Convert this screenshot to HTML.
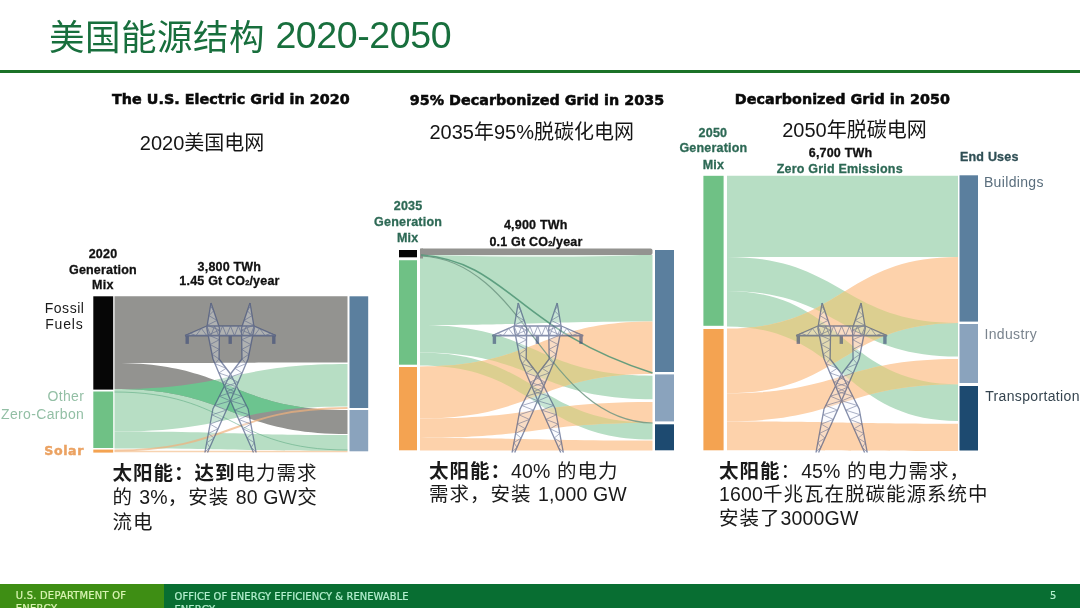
<!DOCTYPE html>
<html lang="zh-CN"><head><meta charset="utf-8"><title>美国能源结构 2020-2050</title>
<style>
*{margin:0;padding:0;box-sizing:border-box}
html,body{width:1080px;height:608px;overflow:hidden;background:#fff}
body{position:relative;font-family:"Liberation Sans", "Noto Sans CJK SC", sans-serif;color:#111}
.a{position:absolute;white-space:nowrap}
.lt{letter-spacing:0.15px}
.title{left:50px;top:13px;font-size:35.5px;line-height:46px;color:#1d7a43;letter-spacing:0.5px}
.rule{left:0;top:70px;width:1080px;height:3px;background:#1b7228}
.hd{font-family:"DejaVu Sans",sans-serif;font-weight:bold;font-size:14.3px;line-height:16px;color:#0a0a0a}
.cn{font-size:20px;line-height:24px;color:#151515}
.lb{font-weight:bold;font-size:12.5px;line-height:15.3px;text-align:center;color:#1a1a1a;letter-spacing:0.3px}
.gl{color:#3b8a6a}
.note{font-size:19.5px;line-height:24px;color:#1a1a1a}
.note b{font-weight:bold}
.foot{left:0;top:583.6px;width:1080px;height:25px;background:#086e32}
.footl{left:0;top:583.6px;width:164px;height:25px;background:#3e8e14}
.ft{font-family:"DejaVu Sans Condensed","Liberation Sans",sans-serif;font-size:11px;line-height:13px;color:#cdebb5}
svg{position:absolute;left:0;top:0}
</style></head><body>
<svg width="1080" height="608" viewBox="0 0 1080 608">
<path d="M114.5,296.3 C231.0,296.3 231.0,296.3 347.5,296.3 L347.5,362.6 C231.0,362.6 231.0,363 114.5,363 Z" fill="#939390"/><path d="M114.5,389 C231.0,389 231.0,364 347.5,364 L347.5,406.5 C231.0,406.5 231.0,431.5 114.5,431.5 Z" fill="#b7dec4"/><path d="M114.5,431.5 C231.0,431.5 231.0,435 347.5,435 L347.5,450.8 C231.0,450.8 231.0,448.5 114.5,448.5 Z" fill="#b7dec4"/><path d="M114.5,363 C231.0,363 231.0,410 347.5,410 L347.5,434 C231.0,434 231.0,389 114.5,389 Z" fill="#939390"/><clipPath id="c1g1"><path d="M114.5,389 C231.0,389 231.0,364 347.5,364 L347.5,406.5 C231.0,406.5 231.0,431.5 114.5,431.5 Z"/></clipPath><path d="M114.5,363 C231.0,363 231.0,410 347.5,410 L347.5,434 C231.0,434 231.0,389 114.5,389 Z" fill="#6cc48f" clip-path="url(#c1g1)"/><path d="M114.5,450.5 C231.0,450.5 231.0,408 347.5,408" stroke="#efb07c" stroke-width="1.9" fill="none" opacity="0.7"/><path d="M114.5,451.5 C231.0,451.5 231.0,451.5 347.5,451.5" stroke="#f4c090" stroke-width="1.5" fill="none" opacity="0.7"/><path d="M114.5,392 C231.0,392 231.0,450 347.5,450" stroke="#5aa880" stroke-width="0.8" fill="none" opacity="0.7"/><rect x="93.3" y="296.3" width="19.9" height="93.3" fill="#060606"/><rect x="93.3" y="391.5" width="19.9" height="56.5" fill="#6fc185"/><rect x="93.3" y="449.6" width="19.9" height="3" fill="#f4a351"/><rect x="349.5" y="296.3" width="18.7" height="111.7" fill="#5b7f9e"/><rect x="349.5" y="410" width="18.7" height="41.3" fill="#8aa3bd"/><g fill="#f2f6ff" opacity="0.3"><polygon points="211.00,303.00 206.80,328.00 213.00,359.00 219.00,359.00 219.50,328.00 211.00,303.00"/><polygon points="219.00,359.00 230.50,374.00 248.10,409.00 256.10,452.50 253.50,452.50 234.10,409.00 213.00,359.00"/><polygon points="185.00,335.70 206.80,326.00 206.80,335.70"/><polygon points="250.00,303.00 254.20,328.00 248.00,359.00 242.00,359.00 241.50,328.00 250.00,303.00"/><polygon points="242.00,359.00 230.50,374.00 212.90,409.00 204.90,452.50 207.50,452.50 226.90,409.00 248.00,359.00"/><polygon points="276.00,335.70 254.20,326.00 254.20,335.70"/><polygon points="206.80,326.00 254.20,326.00 254.20,335.70 206.80,335.70"/></g><g opacity="0.62"><g stroke="#3c4b78" stroke-width="1.35" fill="none" stroke-linejoin="round"><polyline points="211.00,303.00 206.80,328.00 213.00,359.00"/><polyline points="211.00,303.00 219.50,328.00 219.00,359.00"/><polyline points="210.50,306.00 213.66,310.82 208.88,315.64 216.93,320.45 207.26,325.27 219.47,330.09 208.18,334.91 219.31,339.73 210.11,344.55 219.16,349.36 212.04,354.18 219.00,359.00" stroke-width="0.7"/><polyline points="219.00,359.00 230.50,374.00 248.10,409.00 256.10,452.50"/><polyline points="213.00,359.00 234.10,409.00 253.50,452.50"/><polyline points="219.00,359.00 214.96,363.65 226.13,368.30 218.89,372.95 232.31,377.60 222.81,382.25 236.99,386.90 226.74,391.55 241.66,396.20 230.66,400.85 246.34,405.50 234.61,410.15 249.17,414.80 238.76,419.45 250.88,424.10 242.91,428.75 252.59,433.40 247.06,438.05 254.30,442.70 251.20,447.35 256.01,452.00" stroke-width="0.7"/><polyline points="185.00,335.70 206.80,326.00"/><polyline points="185.00,335.70 190.45,333.27 195.90,335.70 201.35,328.43 206.80,335.70" stroke-width="0.7"/><polyline points="250.00,303.00 254.20,328.00 248.00,359.00"/><polyline points="250.00,303.00 241.50,328.00 242.00,359.00"/><polyline points="250.50,306.00 247.34,310.82 252.12,315.64 244.07,320.45 253.74,325.27 241.53,330.09 252.82,334.91 241.69,339.73 250.89,344.55 241.84,349.36 248.96,354.18 242.00,359.00" stroke-width="0.7"/><polyline points="242.00,359.00 230.50,374.00 212.90,409.00 204.90,452.50"/><polyline points="248.00,359.00 226.90,409.00 207.50,452.50"/><polyline points="242.00,359.00 246.04,363.65 234.87,368.30 242.11,372.95 228.69,377.60 238.19,382.25 224.01,386.90 234.26,391.55 219.34,396.20 230.34,400.85 214.66,405.50 226.39,410.15 211.83,414.80 222.24,419.45 210.12,424.10 218.09,428.75 208.41,433.40 213.94,438.05 206.70,442.70 209.80,447.35 204.99,452.00" stroke-width="0.7"/><polyline points="276.00,335.70 254.20,326.00"/><polyline points="276.00,335.70 270.55,333.27 265.10,335.70 259.65,328.43 254.20,335.70" stroke-width="0.7"/><polyline points="206.80,326.00 254.20,326.00" stroke-width="1.7"/><polyline points="185.00,335.70 276.00,335.70" stroke-width="1.7"/><polyline points="206.80,326.00 210.75,335.70 214.70,326.00 218.65,335.70 222.60,326.00 226.55,335.70 230.50,326.00 234.45,335.70 238.40,326.00 242.35,335.70 246.30,326.00 250.25,335.70 254.20,326.00" stroke-width="0.75"/></g><g fill="#3c4b78"><rect x="185.50" y="335.7" width="3.4" height="8.2"/><rect x="228.50" y="335.7" width="3.4" height="8.2"/><rect x="272.10" y="335.7" width="3.4" height="8.2"/></g></g>
<path d="M420,255 C536.25,255 536.25,255 652.5,255 L652.5,321.4 C536.25,321.4 536.25,325 420,325 Z" fill="#b7dec4"/><path d="M420,325 C536.25,325 536.25,375.7 652.5,375.7 L652.5,399.2 C536.25,399.2 536.25,352.5 420,352.5 Z" fill="#b7dec4"/><path d="M420,352.5 C536.25,352.5 536.25,422.7 652.5,422.7 L652.5,439.5 C536.25,439.5 536.25,365.5 420,365.5 Z" fill="#b7dec4"/><path d="M420,366.5 C536.25,366.5 536.25,321.4 652.5,321.4 L652.5,374 C536.25,374 536.25,418.4 420,418.4 Z" fill="#fdd2ab"/><path d="M420,418.4 C536.25,418.4 536.25,402 652.5,402 L652.5,422.7 C536.25,422.7 536.25,438 420,438 Z" fill="#fdd2ab"/><path d="M420,438 C536.25,438 536.25,440.5 652.5,440.5 L652.5,450.6 C536.25,450.6 536.25,450.4 420,450.4 Z" fill="#fdd2ab"/><clipPath id="c2_1"><path d="M420,325 C536.25,325 536.25,375.7 652.5,375.7 L652.5,399.2 C536.25,399.2 536.25,352.5 420,352.5 Z"/></clipPath><path d="M420,366.5 C536.25,366.5 536.25,321.4 652.5,321.4 L652.5,374 C536.25,374 536.25,418.4 420,418.4 Z" fill="#dccf90" clip-path="url(#c2_1)"/><clipPath id="c2_2"><path d="M420,325 C536.25,325 536.25,375.7 652.5,375.7 L652.5,399.2 C536.25,399.2 536.25,352.5 420,352.5 Z"/></clipPath><path d="M420,418.4 C536.25,418.4 536.25,402 652.5,402 L652.5,422.7 C536.25,422.7 536.25,438 420,438 Z" fill="#dccf90" clip-path="url(#c2_2)"/><clipPath id="c2_3"><path d="M420,352.5 C536.25,352.5 536.25,422.7 652.5,422.7 L652.5,439.5 C536.25,439.5 536.25,365.5 420,365.5 Z"/></clipPath><path d="M420,366.5 C536.25,366.5 536.25,321.4 652.5,321.4 L652.5,374 C536.25,374 536.25,418.4 420,418.4 Z" fill="#dccf90" clip-path="url(#c2_3)"/><clipPath id="c2_4"><path d="M420,352.5 C536.25,352.5 536.25,422.7 652.5,422.7 L652.5,439.5 C536.25,439.5 536.25,365.5 420,365.5 Z"/></clipPath><path d="M420,418.4 C536.25,418.4 536.25,402 652.5,402 L652.5,422.7 C536.25,422.7 536.25,438 420,438 Z" fill="#dccf90" clip-path="url(#c2_4)"/><rect x="420" y="248.5" width="232.5" height="6.5" rx="2" fill="#939390"/><rect x="420" y="248.5" width="3" height="10" fill="#939390"/><path d="M425,255 L640,255 C600,257 520,257.8 425,255 Z" fill="#ffffff" opacity="0.7"/><path d="M421,255 C509.5,262.2 515.4,329.3 652.5,373" stroke="#4e9474" stroke-width="1.6" fill="none" opacity="0.85"/><path d="M421,256 C525.3,260 546.1,420.9 652.5,423" stroke="#6f9683" stroke-width="1.2" fill="none" opacity="0.85"/><rect x="399" y="250" width="18" height="7.3" fill="#060606"/><rect x="399" y="260.2" width="18" height="104.5" fill="#6fc185"/><rect x="399" y="367" width="18" height="83.3" fill="#f4a351"/><rect x="655" y="250" width="19" height="122" fill="#5b7f9e"/><rect x="655" y="374.4" width="19" height="47" fill="#8aa3bd"/><rect x="655" y="424.3" width="19" height="26" fill="#1d4a70"/><g fill="#f2f6ff" opacity="0.3"><polygon points="518.20,303.00 514.00,328.00 520.20,359.00 526.20,359.00 526.70,328.00 518.20,303.00"/><polygon points="526.20,359.00 537.70,374.00 555.30,409.00 563.30,452.50 560.70,452.50 541.30,409.00 520.20,359.00"/><polygon points="492.20,335.70 514.00,326.00 514.00,335.70"/><polygon points="557.20,303.00 561.40,328.00 555.20,359.00 549.20,359.00 548.70,328.00 557.20,303.00"/><polygon points="549.20,359.00 537.70,374.00 520.10,409.00 512.10,452.50 514.70,452.50 534.10,409.00 555.20,359.00"/><polygon points="583.20,335.70 561.40,326.00 561.40,335.70"/><polygon points="514.00,326.00 561.40,326.00 561.40,335.70 514.00,335.70"/></g><g opacity="0.62"><g stroke="#3c4b78" stroke-width="1.35" fill="none" stroke-linejoin="round"><polyline points="518.20,303.00 514.00,328.00 520.20,359.00"/><polyline points="518.20,303.00 526.70,328.00 526.20,359.00"/><polyline points="517.70,306.00 520.86,310.82 516.08,315.64 524.13,320.45 514.46,325.27 526.67,330.09 515.38,334.91 526.51,339.73 517.31,344.55 526.36,349.36 519.24,354.18 526.20,359.00" stroke-width="0.7"/><polyline points="526.20,359.00 537.70,374.00 555.30,409.00 563.30,452.50"/><polyline points="520.20,359.00 541.30,409.00 560.70,452.50"/><polyline points="526.20,359.00 522.16,363.65 533.33,368.30 526.09,372.95 539.51,377.60 530.01,382.25 544.19,386.90 533.94,391.55 548.86,396.20 537.86,400.85 553.54,405.50 541.81,410.15 556.37,414.80 545.96,419.45 558.08,424.10 550.11,428.75 559.79,433.40 554.26,438.05 561.50,442.70 558.40,447.35 563.21,452.00" stroke-width="0.7"/><polyline points="492.20,335.70 514.00,326.00"/><polyline points="492.20,335.70 497.65,333.27 503.10,335.70 508.55,328.43 514.00,335.70" stroke-width="0.7"/><polyline points="557.20,303.00 561.40,328.00 555.20,359.00"/><polyline points="557.20,303.00 548.70,328.00 549.20,359.00"/><polyline points="557.70,306.00 554.54,310.82 559.32,315.64 551.27,320.45 560.94,325.27 548.73,330.09 560.02,334.91 548.89,339.73 558.09,344.55 549.04,349.36 556.16,354.18 549.20,359.00" stroke-width="0.7"/><polyline points="549.20,359.00 537.70,374.00 520.10,409.00 512.10,452.50"/><polyline points="555.20,359.00 534.10,409.00 514.70,452.50"/><polyline points="549.20,359.00 553.24,363.65 542.07,368.30 549.31,372.95 535.89,377.60 545.39,382.25 531.21,386.90 541.46,391.55 526.54,396.20 537.54,400.85 521.86,405.50 533.59,410.15 519.03,414.80 529.44,419.45 517.32,424.10 525.29,428.75 515.61,433.40 521.14,438.05 513.90,442.70 517.00,447.35 512.19,452.00" stroke-width="0.7"/><polyline points="583.20,335.70 561.40,326.00"/><polyline points="583.20,335.70 577.75,333.27 572.30,335.70 566.85,328.43 561.40,335.70" stroke-width="0.7"/><polyline points="514.00,326.00 561.40,326.00" stroke-width="1.7"/><polyline points="492.20,335.70 583.20,335.70" stroke-width="1.7"/><polyline points="514.00,326.00 517.95,335.70 521.90,326.00 525.85,335.70 529.80,326.00 533.75,335.70 537.70,326.00 541.65,335.70 545.60,326.00 549.55,335.70 553.50,326.00 557.45,335.70 561.40,326.00" stroke-width="0.75"/></g><g fill="#3c4b78"><rect x="492.70" y="335.7" width="3.4" height="8.2"/><rect x="535.70" y="335.7" width="3.4" height="8.2"/><rect x="579.30" y="335.7" width="3.4" height="8.2"/></g></g>
<path d="M727,175.8 C842.5,175.8 842.5,175.8 958,175.8 L958,257 C842.5,257 842.5,257 727,257 Z" fill="#b7dec4"/><path d="M727,257 C842.5,257 842.5,323 958,323 L958,356.6 C842.5,356.6 842.5,291 727,291 Z" fill="#b7dec4"/><path d="M727,291 C842.5,291 842.5,384.3 958,384.3 L958,421 C842.5,421 842.5,326.5 727,326.5 Z" fill="#b7dec4"/><path d="M727,328.5 C842.5,328.5 842.5,257 958,257 L958,323 C842.5,323 842.5,393.3 727,393.3 Z" fill="#fdd2ab"/><path d="M727,393.3 C842.5,393.3 842.5,359 958,359 L958,384.3 C842.5,384.3 842.5,421.4 727,421.4 Z" fill="#fdd2ab"/><path d="M727,421.4 C842.5,421.4 842.5,423.7 958,423.7 L958,451 C842.5,451 842.5,450.3 727,450.3 Z" fill="#fdd2ab"/><clipPath id="c3_1"><path d="M727,257 C842.5,257 842.5,323 958,323 L958,356.6 C842.5,356.6 842.5,291 727,291 Z"/></clipPath><path d="M727,328.5 C842.5,328.5 842.5,257 958,257 L958,323 C842.5,323 842.5,393.3 727,393.3 Z" fill="#dccf90" clip-path="url(#c3_1)"/><clipPath id="c3_2"><path d="M727,257 C842.5,257 842.5,323 958,323 L958,356.6 C842.5,356.6 842.5,291 727,291 Z"/></clipPath><path d="M727,393.3 C842.5,393.3 842.5,359 958,359 L958,384.3 C842.5,384.3 842.5,421.4 727,421.4 Z" fill="#dccf90" clip-path="url(#c3_2)"/><clipPath id="c3_3"><path d="M727,291 C842.5,291 842.5,384.3 958,384.3 L958,421 C842.5,421 842.5,326.5 727,326.5 Z"/></clipPath><path d="M727,328.5 C842.5,328.5 842.5,257 958,257 L958,323 C842.5,323 842.5,393.3 727,393.3 Z" fill="#dccf90" clip-path="url(#c3_3)"/><clipPath id="c3_4"><path d="M727,291 C842.5,291 842.5,384.3 958,384.3 L958,421 C842.5,421 842.5,326.5 727,326.5 Z"/></clipPath><path d="M727,393.3 C842.5,393.3 842.5,359 958,359 L958,384.3 C842.5,384.3 842.5,421.4 727,421.4 Z" fill="#dccf90" clip-path="url(#c3_4)"/><rect x="703.4" y="175.8" width="20.2" height="150" fill="#6fc185"/><rect x="703.4" y="329" width="20.2" height="121.3" fill="#f4a351"/><rect x="959.5" y="175.3" width="18.5" height="146.3" fill="#5b7f9e"/><rect x="959.5" y="324" width="18.5" height="59" fill="#8aa3bd"/><rect x="959.5" y="386" width="18.5" height="64.5" fill="#1d4a70"/><g fill="#f2f6ff" opacity="0.3"><polygon points="822.10,303.00 817.90,328.00 824.10,359.00 830.10,359.00 830.60,328.00 822.10,303.00"/><polygon points="830.10,359.00 841.60,374.00 859.20,409.00 867.20,452.50 864.60,452.50 845.20,409.00 824.10,359.00"/><polygon points="796.10,335.70 817.90,326.00 817.90,335.70"/><polygon points="861.10,303.00 865.30,328.00 859.10,359.00 853.10,359.00 852.60,328.00 861.10,303.00"/><polygon points="853.10,359.00 841.60,374.00 824.00,409.00 816.00,452.50 818.60,452.50 838.00,409.00 859.10,359.00"/><polygon points="887.10,335.70 865.30,326.00 865.30,335.70"/><polygon points="817.90,326.00 865.30,326.00 865.30,335.70 817.90,335.70"/></g><g opacity="0.62"><g stroke="#3c4b78" stroke-width="1.35" fill="none" stroke-linejoin="round"><polyline points="822.10,303.00 817.90,328.00 824.10,359.00"/><polyline points="822.10,303.00 830.60,328.00 830.10,359.00"/><polyline points="821.60,306.00 824.76,310.82 819.98,315.64 828.03,320.45 818.36,325.27 830.57,330.09 819.28,334.91 830.41,339.73 821.21,344.55 830.26,349.36 823.14,354.18 830.10,359.00" stroke-width="0.7"/><polyline points="830.10,359.00 841.60,374.00 859.20,409.00 867.20,452.50"/><polyline points="824.10,359.00 845.20,409.00 864.60,452.50"/><polyline points="830.10,359.00 826.06,363.65 837.23,368.30 829.99,372.95 843.41,377.60 833.91,382.25 848.09,386.90 837.84,391.55 852.76,396.20 841.76,400.85 857.44,405.50 845.71,410.15 860.27,414.80 849.86,419.45 861.98,424.10 854.01,428.75 863.69,433.40 858.16,438.05 865.40,442.70 862.30,447.35 867.11,452.00" stroke-width="0.7"/><polyline points="796.10,335.70 817.90,326.00"/><polyline points="796.10,335.70 801.55,333.27 807.00,335.70 812.45,328.43 817.90,335.70" stroke-width="0.7"/><polyline points="861.10,303.00 865.30,328.00 859.10,359.00"/><polyline points="861.10,303.00 852.60,328.00 853.10,359.00"/><polyline points="861.60,306.00 858.44,310.82 863.22,315.64 855.17,320.45 864.84,325.27 852.63,330.09 863.92,334.91 852.79,339.73 861.99,344.55 852.94,349.36 860.06,354.18 853.10,359.00" stroke-width="0.7"/><polyline points="853.10,359.00 841.60,374.00 824.00,409.00 816.00,452.50"/><polyline points="859.10,359.00 838.00,409.00 818.60,452.50"/><polyline points="853.10,359.00 857.14,363.65 845.97,368.30 853.21,372.95 839.79,377.60 849.29,382.25 835.11,386.90 845.36,391.55 830.44,396.20 841.44,400.85 825.76,405.50 837.49,410.15 822.93,414.80 833.34,419.45 821.22,424.10 829.19,428.75 819.51,433.40 825.04,438.05 817.80,442.70 820.90,447.35 816.09,452.00" stroke-width="0.7"/><polyline points="887.10,335.70 865.30,326.00"/><polyline points="887.10,335.70 881.65,333.27 876.20,335.70 870.75,328.43 865.30,335.70" stroke-width="0.7"/><polyline points="817.90,326.00 865.30,326.00" stroke-width="1.7"/><polyline points="796.10,335.70 887.10,335.70" stroke-width="1.7"/><polyline points="817.90,326.00 821.85,335.70 825.80,326.00 829.75,335.70 833.70,326.00 837.65,335.70 841.60,326.00 845.55,335.70 849.50,326.00 853.45,335.70 857.40,326.00 861.35,335.70 865.30,326.00" stroke-width="0.75"/></g><g fill="#3c4b78"><rect x="796.60" y="335.7" width="3.4" height="8.2"/><rect x="839.60" y="335.7" width="3.4" height="8.2"/><rect x="883.20" y="335.7" width="3.4" height="8.2"/></g></g>
</svg>
<div class="rule" style="position:absolute"></div>
<div class="foot" style="position:absolute"></div>
<div class="footl" style="position:absolute"></div>
<div class="a" id="title" style="left:49.00px;top:14.50px;line-height:1.2;font-size:35.5px;color:#186f3d;letter-spacing:0.5px;">美国能源结构 <span style="font-size:37.5px;letter-spacing:-0.4px;position:relative;top:-1.5px">2020-2050</span></div>
<div class="a" id="hd1" style="left:112.00px;top:91.20px;line-height:1.2;font-family:'DejaVu Sans',sans-serif;font-weight:bold;font-size:14.3px;color:#0a0a0a;-webkit-text-stroke:0.55px #0a0a0a;letter-spacing:0.05px;">The U.S. Electric Grid in 2020</div>
<div class="a" id="hd2" style="left:409.70px;top:91.80px;line-height:1.2;font-family:'DejaVu Sans',sans-serif;font-weight:bold;font-size:14.3px;color:#0a0a0a;-webkit-text-stroke:0.55px #0a0a0a;letter-spacing:0.05px;">95% Decarbonized Grid in 2035</div>
<div class="a" id="hd3" style="left:734.80px;top:91.20px;line-height:1.2;font-family:'DejaVu Sans',sans-serif;font-weight:bold;font-size:14.3px;color:#0a0a0a;-webkit-text-stroke:0.55px #0a0a0a;letter-spacing:0.05px;">Decarbonized Grid in 2050</div>
<div class="a" id="cn1" style="left:139.80px;top:131.00px;line-height:1.2;font-size:20px;color:#151515;">2020美国电网</div>
<div class="a" id="cn2" style="left:429.40px;top:120.40px;line-height:1.2;font-size:20px;color:#151515;">2035年95%脱碳化电网</div>
<div class="a" id="cn3" style="left:782.20px;top:118.40px;line-height:1.2;font-size:20px;color:#151515;">2050年脱碳电网</div>
<div class="a" id="y2020" style="left:-47.00px;width:300px;text-align:center;top:247.40px;line-height:1.2;font-weight:bold;font-size:12.5px;letter-spacing:0.2px;color:#111;-webkit-text-stroke-width:0.3px;">2020</div>
<div class="a" id="gen1" style="left:-47.05px;width:300px;text-align:center;top:262.60px;line-height:1.2;font-weight:bold;font-size:12.5px;letter-spacing:0.2px;color:#111;-webkit-text-stroke-width:0.3px;">Generation</div>
<div class="a" id="mix1" style="left:-47.20px;width:300px;text-align:center;top:277.60px;line-height:1.2;font-weight:bold;font-size:12.5px;letter-spacing:0.2px;color:#111;-webkit-text-stroke-width:0.3px;">Mix</div>
<div class="a" id="tw1" style="left:79.40px;width:300px;text-align:center;top:259.80px;line-height:1.2;font-weight:bold;font-size:12.5px;letter-spacing:0.2px;color:#111;-webkit-text-stroke-width:0.3px;">3,800 TWh</div>
<div class="a" id="co1" style="left:79.50px;width:300px;text-align:center;top:274.40px;line-height:1.2;font-weight:bold;font-size:12.5px;letter-spacing:0.2px;color:#111;-webkit-text-stroke-width:0.3px;">1.45 Gt CO<span style="font-size:7.5px;letter-spacing:0">2</span>/year</div>
<div class="a" id="y2035" style="left:258.10px;width:300px;text-align:center;top:198.60px;line-height:1.2;font-weight:bold;font-size:12.5px;letter-spacing:0.2px;color:#2d6955;-webkit-text-stroke-width:0.3px;">2035</div>
<div class="a" id="gen2" style="left:258.10px;width:300px;text-align:center;top:214.60px;line-height:1.2;font-weight:bold;font-size:12.5px;letter-spacing:0.2px;color:#2d6955;-webkit-text-stroke-width:0.3px;">Generation</div>
<div class="a" id="mix2" style="left:257.60px;width:300px;text-align:center;top:230.80px;line-height:1.2;font-weight:bold;font-size:12.5px;letter-spacing:0.2px;color:#2d6955;-webkit-text-stroke-width:0.3px;">Mix</div>
<div class="a" id="tw2" style="left:385.75px;width:300px;text-align:center;top:218.40px;line-height:1.2;font-weight:bold;font-size:12.5px;letter-spacing:0.2px;color:#111;-webkit-text-stroke-width:0.3px;">4,900 TWh</div>
<div class="a" id="co2" style="left:386.00px;width:300px;text-align:center;top:234.60px;line-height:1.2;font-weight:bold;font-size:12.5px;letter-spacing:0.2px;color:#111;-webkit-text-stroke-width:0.3px;">0.1 Gt CO<span style="font-size:7.5px;letter-spacing:0">2</span>/year</div>
<div class="a" id="y2050" style="left:562.90px;width:300px;text-align:center;top:125.60px;line-height:1.2;font-weight:bold;font-size:12.5px;letter-spacing:0.2px;color:#2d6955;-webkit-text-stroke-width:0.3px;">2050</div>
<div class="a" id="gen3" style="left:563.40px;width:300px;text-align:center;top:141.20px;line-height:1.2;font-weight:bold;font-size:12.5px;letter-spacing:0.2px;color:#2d6955;-webkit-text-stroke-width:0.3px;">Generation</div>
<div class="a" id="mix3" style="left:563.40px;width:300px;text-align:center;top:157.80px;line-height:1.2;font-weight:bold;font-size:12.5px;letter-spacing:0.2px;color:#2d6955;-webkit-text-stroke-width:0.3px;">Mix</div>
<div class="a" id="tw3" style="left:690.55px;width:300px;text-align:center;top:146.00px;line-height:1.2;font-weight:bold;font-size:12.5px;letter-spacing:0.2px;color:#111;-webkit-text-stroke-width:0.3px;">6,700 TWh</div>
<div class="a" id="zge" style="left:689.80px;width:300px;text-align:center;top:161.60px;line-height:1.2;font-weight:bold;font-size:12.5px;letter-spacing:0.2px;color:#2d6955;-webkit-text-stroke-width:0.3px;">Zero Grid Emissions</div>
<div class="a" id="fossil" style="left:-215.50px;width:300px;text-align:right;top:299.60px;line-height:1.2;font-size:14px;letter-spacing:0.35px;letter-spacing:0.55px;color:#1a1a1a;">Fossil</div>
<div class="a" id="fuels" style="left:-216.50px;width:300px;text-align:right;top:316.00px;line-height:1.2;font-size:14px;letter-spacing:0.35px;letter-spacing:0.8px;color:#1a1a1a;">Fuels</div>
<div class="a" id="other" style="left:-215.80px;width:300px;text-align:right;top:388.00px;line-height:1.2;font-size:14px;letter-spacing:0.35px;color:#93bfa5;">Other</div>
<div class="a" id="zeroc" style="left:-215.80px;width:300px;text-align:right;top:405.50px;line-height:1.2;font-size:14px;letter-spacing:0.35px;color:#93bfa5;">Zero-Carbon</div>
<div class="a" id="solar" style="left:-216.00px;width:300px;text-align:right;top:442.80px;line-height:1.2;font-family:'DejaVu Sans',sans-serif;font-weight:bold;font-size:12.6px;letter-spacing:0.6px;color:#eba262;-webkit-text-stroke-width:0.45px;">Solar</div>
<div class="a" id="enduses" style="left:960.00px;top:149.80px;line-height:1.2;font-weight:bold;font-size:12.5px;letter-spacing:0.2px;color:#111;-webkit-text-stroke-width:0.3px;color:#2f4f55;">End Uses</div>
<div class="a" id="bldg" style="left:983.90px;top:174.00px;line-height:1.2;font-size:14px;letter-spacing:0.35px;color:#5a6e7d;">Buildings</div>
<div class="a" id="ind" style="left:984.40px;top:326.30px;line-height:1.2;font-size:14px;letter-spacing:0.35px;color:#7a848e;">Industry</div>
<div class="a" id="trans" style="left:985.20px;top:388.40px;line-height:1.2;font-size:14px;letter-spacing:0.35px;color:#35444f;">Transportation</div>
<div class="a" id="n1a" style="left:112.40px;top:461.90px;line-height:1.2;font-size:19.5px;color:#1a1a1a;letter-spacing:1.0px;"><b>太阳能：达到</b>电力需求</div>
<div class="a" id="n1b" style="left:112.40px;top:486.40px;line-height:1.2;font-size:19.5px;color:#1a1a1a;letter-spacing:1.0px;">的 <span class="lt">3%</span>，安装 <span class="lt">80 GW</span>交</div>
<div class="a" id="n1c" style="left:112.40px;top:511.00px;line-height:1.2;font-size:19.5px;color:#1a1a1a;letter-spacing:1.0px;">流电</div>
<div class="a" id="n2a" style="left:429.00px;top:460.00px;line-height:1.2;font-size:19.5px;color:#1a1a1a;letter-spacing:1.0px;"><b>太阳能：</b><span class="lt">40%</span> 的电力</div>
<div class="a" id="n2b" style="left:429.00px;top:483.20px;line-height:1.2;font-size:19.5px;color:#1a1a1a;letter-spacing:1.0px;">需求，安装 <span class="lt">1,000 GW</span></div>
<div class="a" id="n3a" style="left:719.10px;top:459.90px;line-height:1.2;font-size:19.5px;color:#1a1a1a;letter-spacing:1.0px;"><b>太阳能</b>：<span class="lt">45%</span> 的电力需求，</div>
<div class="a" id="n3b" style="left:719.10px;top:482.80px;line-height:1.2;font-size:19.5px;color:#1a1a1a;letter-spacing:1.0px;"><span class="lt">1600</span>千兆瓦在脱碳能源系统中</div>
<div class="a" id="n3c" style="left:719.10px;top:507.10px;line-height:1.2;font-size:19.5px;color:#1a1a1a;letter-spacing:1.0px;">安装了<span class="lt">3000GW</span></div>
<div class="a" id="f1" style="left:15.80px;top:589.40px;line-height:1.2;font-family:'DejaVu Sans Condensed','Liberation Sans',sans-serif;font-size:11px;letter-spacing:0.25px;color:#b4f0cf;-webkit-text-stroke-width:0.2px;line-height:13px;color:#dcf5b5;">U.S. DEPARTMENT OF<br>ENERGY</div>
<div class="a" id="f2" style="left:174.50px;top:589.60px;line-height:1.2;font-family:'DejaVu Sans Condensed','Liberation Sans',sans-serif;font-size:11px;letter-spacing:0.25px;color:#b4f0cf;-webkit-text-stroke-width:0.2px;line-height:13px;letter-spacing:0.1px;">OFFICE OF ENERGY EFFICIENCY &amp; RENEWABLE<br>ENERGY</div>
<div class="a" id="f3" style="left:1050.00px;top:589.40px;line-height:1.2;font-family:'DejaVu Sans Condensed','Liberation Sans',sans-serif;font-size:11px;letter-spacing:0.25px;color:#b4f0cf;-webkit-text-stroke-width:0.2px;">5</div>
</body></html>
